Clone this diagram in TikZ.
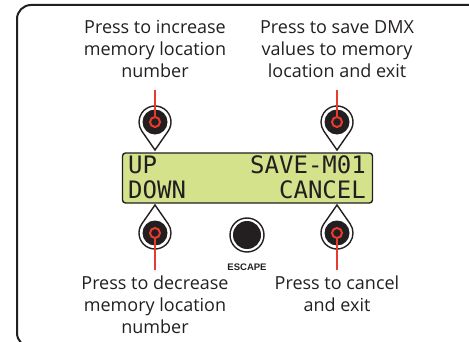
\documentclass[tikz,border=0pt]{standalone}
\usepackage{fontspec}
\setmainfont{Open Sans}
\newfontfamily\lcdfont{DejaVu Sans Mono}
\newfontfamily\capfont{Liberation Sans}
\usepackage{xcolor}
\usetikzlibrary{calc}
\definecolor{ink}{HTML}{231F20}
\definecolor{pinred}{HTML}{E63B2E}
\definecolor{lcdgreen}{RGB}{212,226,140}

\begin{document}
\begin{tikzpicture}[x=1pt, y=1pt,
    helptext/.style={align=center, text=ink, inner sep=0pt, font=\fontsize{18}{22}\selectfont},
    lcdtext/.style={text=ink, inner sep=0pt, font=\lcdfont\fontsize{24}{24}\selectfont},
    knob/.style={draw=ink, line width=1.4pt, fill=white},
    pin/.style={pinred, line width=2pt},
    ring/.style={draw=pinred, fill=ink, line width=2pt}]
    \useasboundingbox (0,0) rectangle (469,341);
    \clip (0,0) rectangle (469,341);

    % frame
    \draw[ink, line width=2pt, rounded corners=14pt] (17,-6) rectangle (500,336);

    % help texts (anchor on last line)
    \node[helptext, anchor=base] (incText) at (155,264) {Press to increase\\memory location\\number};
    \node[helptext, anchor=base] (saveText) at (337,264) {Press to save DMX\\values to memory\\location and exit};
    \node[helptext, anchor=base] (decText) at (155,8) {Press to decrease\\memory location\\number};
    \node[helptext, anchor=base] (cancelText) at (337,30) {Press to cancel\\and exit};

    % display
    \node[draw=ink, line width=1.4pt, fill=lcdgreen, rounded corners=3pt,
          minimum width=250pt, minimum height=50pt, inner sep=0pt] (lcd) at (247.5,163) {};
    \node[lcdtext, anchor=base west] (lcdUp) at (128,168) {UP};
    \node[lcdtext, anchor=base east] (lcdSave) at (366,168) {SAVE-M01};
    \node[lcdtext, anchor=base west] (lcdDown) at (128,143) {DOWN};
    \node[lcdtext, anchor=base east] (lcdCancel) at (366,143) {CANCEL};

    % buttons
    \coordinate (upBtn) at (155,219);
    \coordinate (saveBtn) at (337,219);
    \coordinate (downBtn) at (155,108);
    \coordinate (cancelBtn) at (337,108);
    \coordinate (escBtn) at (247,106);

    \draw[knob] (upBtn) ++(-35:16) arc[start angle=-35, end angle=215, radius=16pt] -- ($(upBtn)+(0,-28)$) -- cycle;
    \draw[knob] (saveBtn) ++(-35:16) arc[start angle=-35, end angle=215, radius=16pt] -- ($(saveBtn)+(0,-28)$) -- cycle;
    \draw[knob] (downBtn) ++(145:16) arc[start angle=145, end angle=395, radius=16pt] -- ($(downBtn)+(0,28)$) -- cycle;
    \draw[knob] (cancelBtn) ++(145:16) arc[start angle=145, end angle=395, radius=16pt] -- ($(cancelBtn)+(0,28)$) -- cycle;
    \draw[knob] (escBtn) circle[radius=17pt];

    \fill[ink] (upBtn) circle[radius=12.5pt];
    \fill[ink] (saveBtn) circle[radius=12.5pt];
    \fill[ink] (downBtn) circle[radius=12.5pt];
    \fill[ink] (cancelBtn) circle[radius=12.5pt];
    \fill[ink] (escBtn) circle[radius=14pt];

    \node[text=ink, inner sep=0pt, anchor=base, font=\capfont\bfseries\fontsize{9.5}{10}\selectfont] (escText) at (247,71) {ESCAPE};

    % pointers
    \coordinate (incPin) at (155,251);
    \coordinate (savePin) at (337,251);
    \coordinate (decPin) at (155,71);
    \coordinate (cancelPin) at (337,71);

    \draw[pin] (incPin) -- (upBtn);
    \draw[pin] (savePin) -- (saveBtn);
    \draw[pin] (decPin) -- (downBtn);
    \draw[pin] (cancelPin) -- (cancelBtn);

    \draw[ring] (upBtn) circle[radius=5pt];
    \draw[ring] (saveBtn) circle[radius=5pt];
    \draw[ring] (downBtn) circle[radius=5pt];
    \draw[ring] (cancelBtn) circle[radius=5pt];
\end{tikzpicture}
\end{document}
